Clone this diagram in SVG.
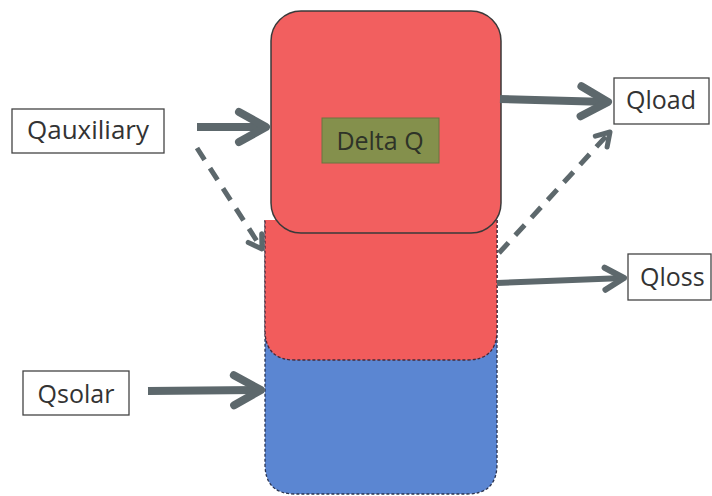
<svg xmlns="http://www.w3.org/2000/svg" width="712" height="496" viewBox="0 0 712 496">
<style>
.lbl{font-family:"Open Sans","Noto Sans","Liberation Sans",sans-serif;font-size:25px;fill:#333}
.box{fill:#fff;stroke:#444;stroke-width:1.3}
.arr{stroke:#5d686c;fill:none}
.solid{stroke-width:8}
.thin{stroke-width:6}
.dash{stroke-width:5;stroke-dasharray:14 10}
.edge{fill:none;stroke-width:1.3;stroke-dasharray:3 2}
</style>
<defs>
<marker id="hBig" markerUnits="userSpaceOnUse" orient="auto" markerWidth="50" markerHeight="50" refX="0" refY="0" viewBox="-40 -25 50 50" overflow="visible">
<path d="M-27,-15 L0,0 L-27,15" fill="none" stroke="#5d686c" stroke-width="8" stroke-linecap="round" stroke-linejoin="round"/>
</marker>
<marker id="hMid" markerUnits="userSpaceOnUse" orient="auto" markerWidth="40" markerHeight="40" refX="0" refY="0" viewBox="-30 -20 40 40" overflow="visible">
<path d="M-19,-11 L0,0 L-19,11" fill="none" stroke="#5d686c" stroke-width="6" stroke-linecap="round" stroke-linejoin="round"/>
</marker>
<marker id="hSm" markerUnits="userSpaceOnUse" orient="auto" markerWidth="30" markerHeight="30" refX="0" refY="0" viewBox="-20 -15 30 30" overflow="visible">
<path d="M-13,-8 L0,0 L-13,8" fill="none" stroke="#5d686c" stroke-width="5" stroke-linecap="round" stroke-linejoin="round"/>
</marker>
</defs>
<rect width="712" height="496" fill="#fff"/>
<g id="tank">
<path d="M265,220 H497 V464 Q497,494 467,494 H295 Q265,494 265,464 Z" fill="#5b86d2"/>
<path class="edge" d="M497,220 V464 Q497,494 467,494 H295 Q265,494 265,464 V220" stroke="#2a3350"/>
<path d="M265,220 H497 V330 Q497,360 467,360 H295 Q265,360 265,330 Z" fill="#f25c5c"/>
<path class="edge" d="M497,220 V330 Q497,360 467,360 H295 Q265,360 265,330 V220" stroke="#4a2a38"/>
<rect x="271" y="11" width="230" height="222" rx="30" ry="30" fill="#f25f5f" stroke="#3a3a3a" stroke-width="1.5"/>
</g>
<g id="deltaQ">
<rect x="322" y="118" width="117" height="45" fill="#84904c" stroke="#6a7440" stroke-width="1"/>
<text class="lbl" x="380" y="150" text-anchor="middle" style="fill:#2e3328">Delta Q</text>
</g>
<g id="qauxiliary">
<rect class="box" x="12" y="109" width="152" height="44"/>
<text class="lbl" x="88" y="139" text-anchor="middle" style="font-size:26px">Qauxiliary</text>
</g>
<g id="qsolar">
<rect class="box" x="23" y="371" width="106" height="44"/>
<text class="lbl" x="76" y="403" text-anchor="middle">Qsolar</text>
</g>
<g id="qload">
<rect class="box" x="614" y="78" width="95" height="46"/>
<text class="lbl" x="661" y="109" text-anchor="middle">Qload</text>
</g>
<g id="qloss">
<rect class="box" x="628" y="254" width="83" height="46"/>
<text class="lbl" x="640" y="286">Qloss</text>
</g>
<g id="connectors">
<line class="arr solid" x1="197" y1="127" x2="266" y2="127" marker-end="url(#hBig)"/>
<line class="arr solid" x1="148" y1="391" x2="261" y2="390" marker-end="url(#hBig)"/>
<line class="arr solid" x1="500" y1="99" x2="608" y2="102" marker-end="url(#hBig)"/>
<line class="arr thin" x1="497" y1="283" x2="624" y2="278" marker-end="url(#hMid)"/>
<line class="arr dash" x1="197" y1="148" x2="262" y2="249" marker-end="url(#hSm)"/>
<line class="arr dash" x1="499" y1="253" x2="610" y2="132" marker-end="url(#hSm)"/>
</g>
</svg>
